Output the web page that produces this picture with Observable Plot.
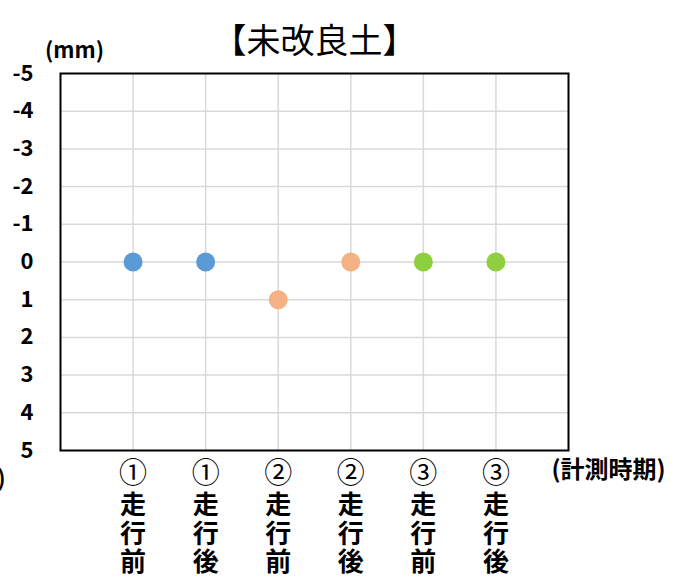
<!DOCTYPE html>
<html>
<head>
<meta charset="utf-8">
<script src="https://cdn.jsdelivr.net/npm/d3@7"></script>
<script src="https://cdn.jsdelivr.net/npm/@observablehq/plot@0.6"></script>
<style>
  html, body { margin: 0; padding: 0; background: #fff; }
  #chart svg { display: block; }
</style>
</head>
<body>
<div id="chart"></div>
<script>
const title = "【未改良土】";
const yUnit = "(mm)";
const xUnit = "(計測時期)";
const categories = ["①走行前", "①走行後", "②走行前", "②走行後", "③走行前", "③走行後"];
const values = [0, 0, 1, 0, 0, 0];
const seriesColors = ["#5B9BD5", "#5B9BD5", "#F4B183", "#F4B183", "#8DCF3F", "#8DCF3F"];
const yTicks = [-5, -4, -3, -2, -1, 0, 1, 2, 3, 4, 5];

const data = categories.map((c, i) => ({pos: i + 1, label: c, value: values[i], color: seriesColors[i]}));
const xTicks = data.map(d => d.pos);
const labelOf = new Map(data.map(d => [d.pos, d.label]));

const font = "'Noto Sans CJK JP', 'Noto Sans', sans-serif";

const chart = Plot.plot({
  width: 674,
  height: 585,
  marginLeft: 60,
  marginRight: 106,
  marginTop: 73,
  marginBottom: 135,
  style: {fontFamily: font, background: "#fff", color: "#000"},
  x: {domain: [0, 7], axis: null},
  y: {domain: [-5, 5], reverse: true, axis: null},
  marks: [
    Plot.gridY(yTicks.filter(t => t > -5 && t < 5), {stroke: "#d9d9d9", strokeOpacity: 1, strokeWidth: 1.5}),
    Plot.gridX(xTicks, {stroke: "#d9d9d9", strokeOpacity: 1, strokeWidth: 1.5}),
    Plot.frame({stroke: "#000", strokeWidth: 2}),
    Plot.axisY(yTicks, {tickSize: 0, tickPadding: 27, fontSize: 22, fontWeight: "bold", fill: "#000", label: null, tickFormat: d => String(d)}),
    // circled run number
    Plot.axisX(xTicks, {
      tickSize: 0, tickPadding: 24, fontSize: 28, fontWeight: "normal", fill: "#000", label: null,
      tickFormat: d => Array.from(labelOf.get(d))[0],
      lineAnchor: "middle"
    }),
    // stacked kanji
    Plot.axisX(xTicks, {
      tickSize: 0, tickPadding: 44, fontSize: 26, fontWeight: "bold", fill: "#000", lineHeight: 1.08, label: null,
      tickFormat: d => Array.from(labelOf.get(d)).slice(1).join("\n"),
      lineAnchor: "top"
    }),
    Plot.dot(data, {x: "pos", y: "value", fill: "color", r: 9.5, stroke: null}),
    Plot.text([title], {frameAnchor: "top", dy: -31, fontSize: 34, fill: "#000", lineAnchor: "middle"}),
    Plot.text([yUnit], {frameAnchor: "top-left", dx: 14, dy: -23, fontSize: 22, fontWeight: "bold", fill: "#000", textAnchor: "middle", lineAnchor: "middle"}),
    Plot.text([xUnit], {frameAnchor: "bottom-right", dx: 40, dy: 20, fontSize: 24, fontWeight: "bold", fill: "#000", textAnchor: "middle", lineAnchor: "middle"}),
    Plot.text([")"], {frameAnchor: "bottom-left", dx: -55, dy: 28, fontSize: 22, fontWeight: "bold", fill: "#000", textAnchor: "end", lineAnchor: "middle"})
  ]
});
document.getElementById("chart").appendChild(chart);
</script>
</body>
</html>
